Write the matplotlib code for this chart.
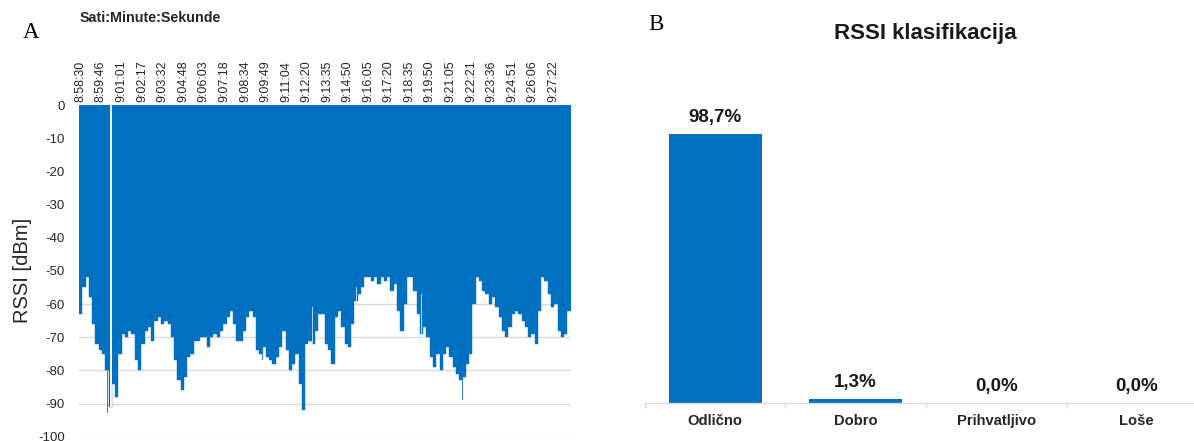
import numpy as np
import matplotlib
matplotlib.use("Agg")
import matplotlib.pyplot as plt

plt.rcParams['font.family'] = ['Liberation Sans', 'DejaVu Sans']
plt.rcParams['axes.unicode_minus'] = False

BLUE = '#0070C0'
GRID = '#d9d9d9'

# ---------------- Panel A data ----------------
time_labels = ['8:58:30', '8:59:46', '9:01:01', '9:02:17', '9:03:32', '9:04:48',
               '9:06:03', '9:07:18', '9:08:34', '9:09:49', '9:11:04', '9:12:20',
               '9:13:35', '9:14:50', '9:16:05', '9:17:20', '9:18:35', '9:19:50',
               '9:21:05', '9:22:21', '9:23:36', '9:24:51', '9:26:06', '9:27:22']
sample_step_s = 12  # each value below summarises ~12 s of the record
rssi_dbm = [
    -63, -55, -52, -58, -66, -72, -74, -75, -80, -91,
    -84, -88, -75, -69, -70, -68, -69, -77, -80, -72,
    -68, -67, -71, -65, -64, -66, -65, -66, -70, -77,
    -83, -86, -82, -76, -75, -71, -71, -70, -70, -73,
    -70, -69, -70, -68, -66, -64, -62, -66, -71, -71,
    -68, -64, -62, -64, -74, -75, -73, -76, -77, -78,
    -76, -73, -68, -74, -80, -78, -75, -84, -92, -72,
    -71, -72, -68, -63, -63, -72, -74, -78, -64, -62,
    -67, -72, -73, -66, -59, -57, -55, -52, -52, -53,
    -52, -54, -52, -53, -52, -56, -54, -62, -68, -60,
    -52, -52, -56, -63, -69, -67, -70, -76, -79, -75,
    -80, -75, -73, -76, -79, -81, -83, -82, -78, -75,
    -60, -52, -53, -56, -57, -60, -58, -61, -64, -68,
    -70, -67, -63, -62, -63, -65, -67, -70, -69, -72,
    -62, -52, -53, -57, -61, -60, -68, -70, -69, -62,
]
# single weaker samples (spikes below the envelope)
low_spike_time_s = [11, 62, 77, 104, 135, 150, 161, 231, 333, 377, 472, 542,
                    655, 673, 714, 772, 820, 908, 977, 1087, 1127, 1168, 1241,
                    1296, 1351, 1405, 1567, 1651, 1673, 1746, 1779]
low_spike_dbm = [-71, -77, -76, -93, -91, -79, -87, -85, -89, -89, -85, -75,
                 -79, -77, -89, -85, -97, -83, -83, -65, -65, -73, -77,
                 -85, -85, -89, -73, -72, -79, -77, -77]
# single stronger samples (short bars inside the envelope)
high_spike_time_s = [278, 348, 414, 487, 501, 571, 637, 747, 856, 1017, 1255,
                     1332, 1541, 1607]
high_spike_dbm = [-59, -59, -61, -61, -61, -55, -55, -51, -61, -55, -57,
                  -53, -58, -63]
gap_time_s = [117]

# ---------------- Panel B data ----------------
categories = ['Odlično', 'Dobro', 'Prihvatljivo', 'Loše']
shares_pct = [98.7, 1.3, 0.0, 0.0]

W, H = 1194, 441
fig = plt.figure(figsize=(W / 100, H / 100), dpi=100)

# ---------------- Panel A ----------------
axL = fig.add_axes([79 / W, (H - 436.7) / H, 491.7 / W, 331.7 / H])
n = len(rssi_dbm)
t_centers = np.arange(n) * sample_step_s + sample_step_s / 2
axL.bar(t_centers, rssi_dbm, width=sample_step_s, color=BLUE,
        edgecolor=BLUE, linewidth=0.3, zorder=2)

def envelope_at(times):
    return [rssi_dbm[min(int(t // sample_step_s), n - 1)] for t in times]

env_low = envelope_at(low_spike_time_s)
ls_height = [min(v - e, 0) for v, e in zip(low_spike_dbm, env_low)]
axL.bar(low_spike_time_s, ls_height, bottom=env_low, width=2.5,
        color='#2f86c6', linewidth=0, zorder=2)
env_high = envelope_at(high_spike_time_s)
hs_height = [max(v - e, 0) for v, e in zip(high_spike_dbm, env_high)]
axL.bar(high_spike_time_s, hs_height, bottom=env_high, width=2.5,
        color='#b9d3e6', linewidth=0, zorder=3)
gap_depth = envelope_at(gap_time_s)
axL.bar(gap_time_s, gap_depth, width=4, color='#eef3f8', linewidth=0, zorder=3)

axL.set_ylim(-100, 0)
axL.set_xlim(0, n * sample_step_s)
axL.set_yticks(np.arange(0, -101, -10))
axL.set_yticklabels([str(v) for v in np.arange(0, -101, -10)])
axL.yaxis.grid(True, color=GRID, linewidth=1)
axL.set_axisbelow(True)
for s in axL.spines.values():
    s.set_visible(False)
axL.tick_params(axis='y', length=0, pad=10, labelsize=9.5, labelcolor='#262626')

def to_sec(lbl):
    h, m, s = (int(p) for p in lbl.split(':'))
    return h * 3600 + m * 60 + s

t0 = to_sec(time_labels[0])
tick_pos = [to_sec(l) - t0 + 4 for l in time_labels]
axL.xaxis.tick_top()
axL.set_xticks(tick_pos)
axL.set_xticklabels(time_labels, rotation=90, fontsize=9, color='#262626')
axL.tick_params(axis='x', length=0, pad=2)

axL.set_ylabel('RSSI [dBm]', fontsize=14.5, color='#262626')
axL.yaxis.set_label_coords(-0.096, 0.5)

fig.text(80 / W, 1 - 18 / H, 'Sati:Minute:Sekunde', fontsize=10.3,
         fontweight='bold', ha='left', va='center', color='#262626')
fig.text(31.5 / W, 1 - 38 / H, 'A', family=['Liberation Serif'], fontsize=16.5,
         ha='center', va='baseline')

# ---------------- Panel B ----------------
axR = fig.add_axes([645 / W, (H - 403) / H, 562 / W, 272.5 / H])
xpos = np.arange(len(categories))
axR.bar(xpos, shares_pct, width=0.66, color=BLUE, linewidth=0)
axR.set_xlim(-0.5, len(categories) - 0.5)
axR.set_ylim(0, 100)
for side in ('left', 'right', 'top'):
    axR.spines[side].set_visible(False)
axR.spines['bottom'].set_color(GRID)
axR.spines['bottom'].set_linewidth(1)
axR.set_yticks([])
axR.set_xticks(xpos)
axR.set_xticklabels(categories, fontsize=10.6, fontweight='bold', color='#262626')
axR.tick_params(axis='x', which='major', length=0, pad=8)
axR.set_xticks(np.arange(-0.5, len(categories)), minor=True)
axR.tick_params(axis='x', which='minor', length=3.6, color=GRID, width=1)
for x, v in zip(xpos, shares_pct):
    axR.annotate(f'{v:.1f}%'.replace('.', ','), (x, v), xytext=(0, 12.2),
                 textcoords='offset points', ha='center', va='center',
                 fontsize=13.5, fontweight='bold', color='#1a1a1a')

fig.text(925 / W, 1 - 33 / H, 'RSSI klasifikacija', fontsize=16,
         fontweight='bold', ha='center', va='center', color='#1a1a1a')
fig.text(656 / W, 1 - 30 / H, 'B', family=['Liberation Serif'], fontsize=16.5,
         ha='center', va='baseline')

fig.savefig('out.png', dpi=100)
